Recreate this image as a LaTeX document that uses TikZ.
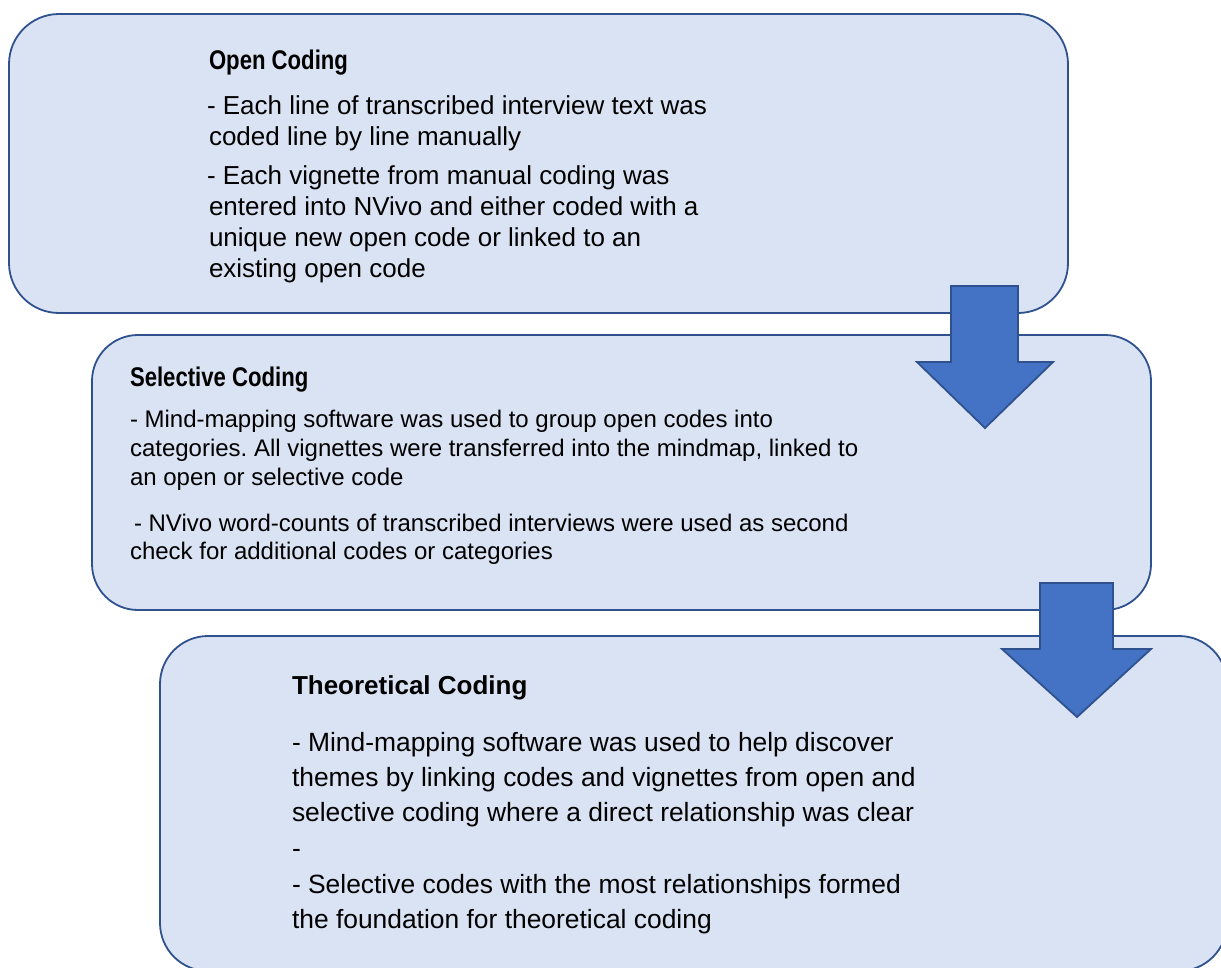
\documentclass[tikz,border=0pt]{standalone}
\usepackage{fontspec}
\setmainfont{Liberation Sans}
\newfontfamily\narrowsans[FakeStretch=0.82]{Liberation Sans}
\definecolor{boxfill}{HTML}{DAE3F3}
\definecolor{boxline}{HTML}{2F528F}
\definecolor{arrowfill}{HTML}{4472C4}
\frenchspacing
\begin{document}
\begin{tikzpicture}[x=1pt,y=-1pt,
  stage/.style={draw=boxline, fill=boxfill, line width=1.8pt, anchor=north west,
    inner sep=0pt, outer sep=0pt},
  blockarrow/.style={draw=boxline, fill=arrowfill, line width=1.8pt, line join=miter},
  txt/.style={anchor=base west, inner sep=0pt, outer sep=0pt, text=black},
  headA/.style={txt, font=\narrowsans\bfseries\fontsize{27}{30}\selectfont},
  headB/.style={txt, font=\bfseries\fontsize{26}{30}\selectfont},
  bodyA/.style={txt, font=\fontsize{26}{30}\selectfont},
  bodyB/.style={txt, font=\fontsize{24}{28}\selectfont},
  bodyC/.style={txt, font=\fontsize{26.4}{35}\selectfont}]
\fill[white] (0,0) rectangle (1221,967);
\clip (0,0) rectangle (1221,967);

% stage boxes
\node[stage, rounded corners=50pt, minimum width=1059pt, minimum height=299pt] (open) at (9,14) {};
\node[stage, rounded corners=46pt, minimum width=1059pt, minimum height=275pt] (selective) at (92,335) {};

% arrow from open coding to selective coding
\draw[blockarrow] (951,286) -- (1018,286) -- (1018,362) -- (1053,362) -- (985,428)
  -- (917,362) -- (951,362) -- cycle;

\node[stage, rounded corners=48pt, minimum width=1067pt, minimum height=335pt] (theoretical) at (160,636) {};

% arrow from selective coding to theoretical coding
\draw[blockarrow] (1040,583) -- (1113,583) -- (1113,649) -- (1151,649) -- (1077,717)
  -- (1002,649) -- (1040,649) -- cycle;

% open coding
\node[headA] (oTitle) at (209,69) {Open Coding};
\node[bodyA] (o1) at (207,114) {- Each line of transcribed interview text was};
\node[bodyA] (o2) at (209,145) {coded line by line manually};
\node[bodyA] (o3) at (207,184) {- Each vignette from manual coding was};
\node[bodyA] (o4) at (209,215) {entered into NVivo and either coded with a};
\node[bodyA] (o5) at (209,246) {unique new open code or linked to an};
\node[bodyA] (o6) at (209,277) {existing open code};

% selective coding
\node[headA] (sTitle) at (130,386) {Selective Coding};
\node[bodyB] (s1) at (130,427) {- Mind-mapping software was used to group open codes into};
\node[bodyB] (s2) at (130,456) {categories. All vignettes were transferred into the mindmap, linked to};
\node[bodyB] (s3) at (130,485) {an open or selective code};
\node[bodyB] (s4) at (134,531) {- NVivo word-counts of transcribed interviews were used as second};
\node[bodyB] (s5) at (130,559) {check for additional codes or categories};

% theoretical coding
\node[headB] (tTitle) at (292,694) {Theoretical Coding};
\node[bodyC] (t1) at (292,751) {- Mind-mapping software was used to help discover};
\node[bodyC] (t2) at (292,786) {themes by linking codes and vignettes from open and};
\node[bodyC] (t3) at (292,821) {selective coding where a direct relationship was clear};
\node[bodyC] (t4) at (292,857) {-};
\node[bodyC] (t5) at (292,893) {- Selective codes with the most relationships formed};
\node[bodyC] (t6) at (292,928) {the foundation for theoretical coding};
\end{tikzpicture}
\end{document}
